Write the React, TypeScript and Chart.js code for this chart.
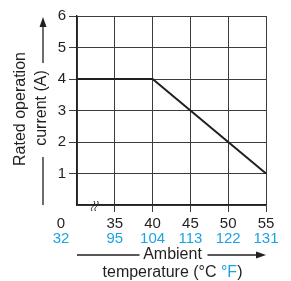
import React, { useEffect, useRef } from 'react';
import { Chart, registerables } from 'chart.js';

Chart.register(...registerables);

// Data
const tempC = ['0', '35', '40', '45', '50', '55'];
const tempF = ['32', '95', '104', '113', '122', '131'];
const currentA = [4, 4, 4, 3, 2, 1];
const yMin = 0;
const yMax = 6;

const BLACK = '#231f20';
const BLUE = '#1aa3e4';
const GRID = '#3c3c3c';
const FONT = '"Liberation Sans", Arial, Helvetica, sans-serif';

export default function App() {
  const ref = useRef<HTMLCanvasElement>(null);

  useEffect(() => {
    const deco = {
      id: 'deco',
      afterDraw(chart: any) {
        const ctx = chart.ctx as CanvasRenderingContext2D;
        const xs = chart.scales.x;
        const a = chart.chartArea;
        ctx.save();
        // x tick labels (°C and °F)
        ctx.font = `15px ${FONT}`;
        ctx.textAlign = 'center';
        ctx.textBaseline = 'middle';
        tempC.forEach((c, i) => {
          let px = xs.getPixelForValue(i);
          if (i === 0) px -= 16;
          ctx.fillStyle = BLACK;
          ctx.fillText(c, px, a.bottom + 19);
          ctx.fillStyle = BLUE;
          ctx.fillText(tempF[i], px, a.bottom + 34);
        });

        // axis break symbol
        ctx.strokeStyle = BLACK;
        ctx.lineWidth = 1;
        for (const dx of [0, 3.5]) {
          const x0 = a.left + 15 + dx;
          const yb = a.bottom + 6;
          ctx.beginPath();
          ctx.moveTo(x0, yb);
          ctx.bezierCurveTo(x0 - 3, yb - 4, x0 + 5, yb - 5, x0 + 2, yb - 10);
          ctx.stroke();
        }

        // x title
        ctx.font = `16px ${FONT}`;
        ctx.fillStyle = BLACK;
        const cx = (a.left + a.right) / 2 + 1;
        const ay = a.bottom + 50;
        ctx.fillText('Ambient', cx, ay);
        ctx.lineWidth = 1.3;
        ctx.beginPath();
        ctx.moveTo(a.left, ay);
        ctx.lineTo(cx - 33, ay);
        ctx.moveTo(cx + 35, ay);
        ctx.lineTo(a.right - 8, ay);
        ctx.stroke();
        ctx.beginPath();
        ctx.moveTo(a.right, ay);
        ctx.lineTo(a.right - 10, ay - 3.5);
        ctx.lineTo(a.right - 10, ay + 3.5);
        ctx.closePath();
        ctx.fill();

        const parts: [string, string][] = [
          ['temperature (°C ', BLACK],
          ['°F', BLUE],
          [')', BLACK],
        ];
        const total = parts.reduce((s, p) => s + ctx.measureText(p[0]).width, 0);
        let tx = cx - total / 2;
        ctx.textAlign = 'left';
        for (const [t, col] of parts) {
          ctx.fillStyle = col;
          ctx.fillText(t, tx, a.bottom + 68);
          tx += ctx.measureText(t).width;
        }

        // y title
        ctx.textAlign = 'center';
        ctx.fillStyle = BLACK;
        ctx.save();
        ctx.translate(21, 109);
        ctx.rotate(-Math.PI / 2);
        ctx.fillText('Rated operation', 0, 0);
        ctx.restore();
        ctx.save();
        ctx.translate(42, 108);
        ctx.rotate(-Math.PI / 2);
        ctx.fillText('current (A)', 0, 0);
        ctx.restore();

        const lx = 43;
        ctx.beginPath();
        ctx.moveTo(lx, 63);
        ctx.lineTo(lx, 26);
        ctx.moveTo(lx, 157);
        ctx.lineTo(lx, a.bottom);
        ctx.stroke();
        ctx.beginPath();
        ctx.moveTo(lx, a.top + 1);
        ctx.lineTo(lx - 3.5, a.top + 11);
        ctx.lineTo(lx + 3.5, a.top + 11);
        ctx.closePath();
        ctx.fill();
        ctx.restore();
      },
    };

    const chart = new Chart(ref.current as HTMLCanvasElement, {
      type: 'line',
      data: {
        labels: tempC,
        datasets: [
          {
            data: currentA,
            borderColor: BLACK,
            borderWidth: 2,
            pointRadius: 0,
            tension: 0,
            fill: false,
          },
        ],
      },
      options: {
        responsive: false,
        animation: false,
        events: [],
        layout: { padding: { left: 0, top: 16, right: 25, bottom: 0 } },
        plugins: {
          legend: { display: false },
          tooltip: { enabled: false },
          title: { display: false },
        },
        scales: {
          x: {
            type: 'category',
            offset: false,
            grid: {
              color: GRID,
              lineWidth: 1,
              drawTicks: true,
              tickLength: 7,
              tickColor: (c: any) => (c.index === 0 ? 'rgba(0,0,0,0)' : GRID),
            },
            border: { color: BLACK, width: 1.3 },
            ticks: { display: false },
            afterFit(scale: any) {
              scale.height = 76;
            },
          },
          y: {
            type: 'linear',
            min: yMin,
            max: yMax,
            grid: {
              color: GRID,
              lineWidth: 1,
              tickLength: 8,
              tickColor: (c: any) => (c.tick && c.tick.value === 0 ? 'rgba(0,0,0,0)' : GRID),
            },
            border: { color: BLACK, width: 1.3 },
            ticks: {
              stepSize: 1,
              padding: 3,
              color: BLACK,
              font: { size: 15, family: FONT },
              callback: (v: any) => (v === 0 ? '' : String(v)),
            },
            afterFit(scale: any) {
              scale.width = 77;
            },
          },
        },
      },
      plugins: [deco],
    });
    return () => chart.destroy();
  }, []);

  return (
    <div style={{ position: 'fixed', left: 0, top: 0, width: 291, height: 281, background: '#fff' }}>
      <canvas ref={ref} width={291} height={281} style={{ display: 'block', width: 291, height: 281 }} />
    </div>
  );
}
